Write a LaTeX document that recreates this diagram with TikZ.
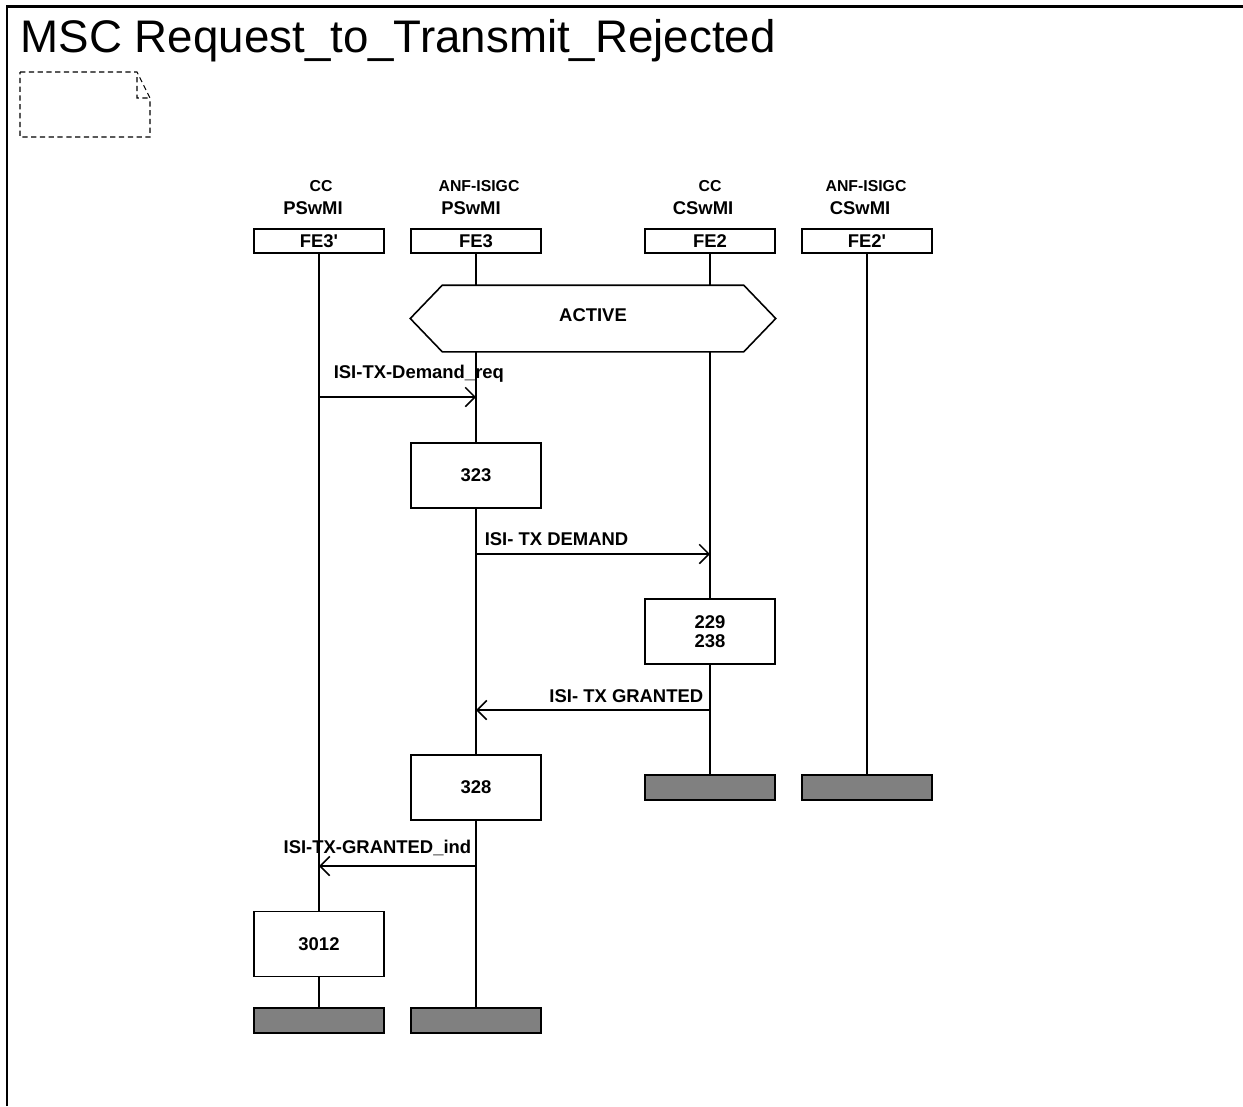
\documentclass[tikz,border=0pt]{standalone}
\usepackage{fontspec}
\setmainfont{Liberation Sans}
\usepackage{tikz}
\usetikzlibrary{arrows.meta}

\begin{document}
\begin{tikzpicture}[x=0.02cm, y=-0.02cm, line width=0.9pt,
    head/.style={draw, minimum width=2.6cm, minimum height=0.48cm, inner sep=0pt, font=\bfseries\fontsize{10.5}{12}\selectfont},
    proc/.style={draw, minimum width=2.6cm, minimum height=1.3cm, inner sep=0pt, align=center, font=\bfseries\fontsize{10.5}{10.5}\selectfont},
    stopbar/.style={draw, fill=black!50, minimum width=2.6cm, minimum height=0.5cm, inner sep=0pt},
    msg/.style={-{Straight Barb[length=5.5pt,width=11pt]}},
    lbl/.style={inner sep=0pt, font=\bfseries\fontsize{10.5}{12}\selectfont},
    ent/.style={inner sep=0pt, font=\bfseries\fontsize{9}{10}\selectfont}]
            \useasboundingbox (0,0) rectangle (1243,1106);
            \draw[line width=1.5pt](7,1106)--(7,6.5)--(1243,6.5);
            \node[anchor=base west, inner sep=0pt, font=\fontsize{26}{30}\selectfont](title) at (20,52){MSC Request\_to\_Transmit\_Rejected};
            \draw[line width=0.6pt, dash pattern=on 3pt off 2pt](20,72)--(137,72)--(150,98)--(150,137)--(20,137)--cycle (137,77)--(137,98)--(150,98);
            \node[ent](cc1) at (321,186){CC};
            \node[lbl](ps1) at (313,208){PSwMI};
            \node[ent](anf1) at (479,186){ANF-ISIGC};
            \node[lbl](ps2) at (471,208){PSwMI};
            \node[ent](cc2) at (710,186){CC};
            \node[lbl](cs1) at (703,208){CSwMI};
            \node[ent](anf2) at (866,186){ANF-ISIGC};
            \node[lbl](cs2) at (860,208){CSwMI};
            \node[head](fe3p) at (319,241){FE3\textquotesingle};
            \node[head](fe3) at (476,241){FE3};
            \node[head](fe2) at (710,241){FE2};
            \node[head](fe2p) at (867,241){FE2\textquotesingle};
            \node[lbl, minimum width=7.28cm, minimum height=1.3cm](active) at (593,318.5){};
            \node[lbl](activetext) at (593,315){ACTIVE};
            \draw(active.west)--([xshift=0.64cm]active.north west)--([xshift=-0.64cm]active.north east)--(active.east)--([xshift=-0.64cm]active.south east)--([xshift=0.64cm]active.south west)--cycle;
            \node[proc](t323) at (476,475.5){323};
            \node[proc](t229) at (710,631.5){229\\238};
            \node[proc](t328) at (476,787.5){328};
            \node[proc](t3012) at (319,944){3012};
            \node[stopbar](end3p) at (319,1020.5){};
            \node[stopbar](end3) at (476,1020.5){};
            \node[stopbar](end2) at (710,787.5){};
            \node[stopbar](end2p) at (867,787.5){};
            \draw(fe3p)--(t3012)--(end3p);
            \draw(fe3)--(fe3 |- active.north);
            \draw(fe3 |- active.south)--(t323)--(t328)--(end3);
            \draw(fe2)--(fe2 |- active.north);
            \draw(fe2 |- active.south)--(t229)--(end2);
            \draw(fe2p)--(end2p);
            \coordinate(r1) at (0,397);
            \coordinate(r2) at (0,554);
            \coordinate(r3) at (0,710);
            \coordinate(r4) at (0,866);
            \draw[msg](fe3p |- r1)--(fe3 |- r1);
            \node[lbl, anchor=base west](m1) at (333,378){ISI-TX-Demand\_req};
            \draw[msg](fe3 |- r2)--(fe2 |- r2);
            \node[lbl, anchor=base west](m2) at (484,545){ISI- TX DEMAND};
            \draw[msg](fe2 |- r3)--(fe3 |- r3);
            \node[lbl, anchor=base east](m3) at (704,702){ISI- TX GRANTED};
            \draw[msg](fe3 |- r4)--(fe3p |- r4);
            \node[lbl, anchor=base east](m4) at (472,853){ISI-TX-GRANTED\_ind};
        \end{tikzpicture}
\end{document}
